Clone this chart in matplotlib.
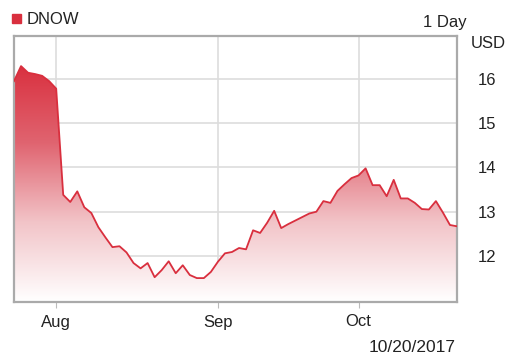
import numpy as np
import matplotlib
matplotlib.use('Agg')
import matplotlib.pyplot as plt
from matplotlib.colors import LinearSegmentedColormap
from matplotlib.patches import Rectangle

plt.rcParams['font.family'] = ['Liberation Sans', 'DejaVu Sans']

# daily closes, trading days 7/24/2017 - 10/20/2017
prices = [15.95, 16.29, 16.14, 16.11, 16.07, 15.95, 15.78, 13.38, 13.22, 13.46,
          13.10, 12.97, 12.65, 12.42, 12.20, 12.22, 12.08, 11.84, 11.72, 11.84,
          11.52, 11.68, 11.88, 11.61, 11.79, 11.57, 11.50, 11.50, 11.64, 11.87,
          12.06, 12.09, 12.18, 12.15, 12.58, 12.52, 12.75, 13.02, 12.63, 12.72,
          12.80, 12.88, 12.96, 13.00, 13.24, 13.20, 13.47, 13.62, 13.76, 13.82,
          13.98, 13.60, 13.60, 13.35, 13.72, 13.30, 13.30, 13.20, 13.06, 13.05,
          13.24, 12.98, 12.70, 12.67]
month_idx = [6, 29, 49]
month_labels = ['Aug', 'Sep', 'Oct']
y_ticks = [12, 13, 14, 15, 16]
ticker = 'DNOW'
date_label = '10/20/2017'

red = '#d92f3e'
txt = '#222222'
x = np.arange(len(prices))
ymin, ymax = 10.96, 16.97

fig = plt.figure(figsize=(5.08, 3.56), dpi=100)
ax = fig.add_axes([14/508, 54/356, 443/508, 266/356])
ax.set_xlim(0, len(prices) - 1)
ax.set_ylim(ymin, ymax)

# vertical gradient fill, clipped to the area under the line
cmap = LinearSegmentedColormap.from_list('g', ['#ffffff', '#f2c4c8', '#e06470', red])
grad = np.linspace(0, 1, 256).reshape(-1, 1)
im = ax.imshow(grad, cmap=cmap, aspect='auto', origin='lower',
               extent=[0, len(prices) - 1, ymin, 16.35], zorder=1)
poly = ax.fill_between(x, prices, ymin, color='none', lw=0)
im.set_clip_path(poly.get_paths()[0], transform=ax.transData)
ax.plot(x, prices, color=red, lw=1.3, zorder=3)

ax.set_xticks(month_idx)
ax.set_xticklabels(month_labels)
ax.set_yticks(y_ticks)
ax.yaxis.tick_right()
ax.grid(True, color='#dddddd', lw=1.2, zorder=0)
ax.set_axisbelow(True)
ax.tick_params(axis='x', length=4, color='#bbbbbb', labelsize=12, pad=5, labelcolor=txt)
ax.tick_params(axis='y', length=0, labelsize=12, pad=15, labelcolor=txt)
for s in ax.spines.values():
    s.set_color('#aaaaaa')
    s.set_linewidth(1.6)

fig.patches.append(Rectangle((12/508, 1 - 23/356), 9/508, 9/356, color=red,
                             transform=fig.transFigure, figure=fig))
fig.text(27/508, 1 - 19/356, ticker, color=txt, fontsize=12, va='center')
fig.text(467/508, 1 - 23/356, '1 Day', color=txt, fontsize=12, va='center', ha='right')
fig.text(471/508, 1 - 44/356, 'USD', color=txt, fontsize=12, va='center')
fig.text(456/508, 1 - 347/356, date_label, color=txt, fontsize=12.5, va='center', ha='right')

fig.savefig('out.png', dpi=100)
